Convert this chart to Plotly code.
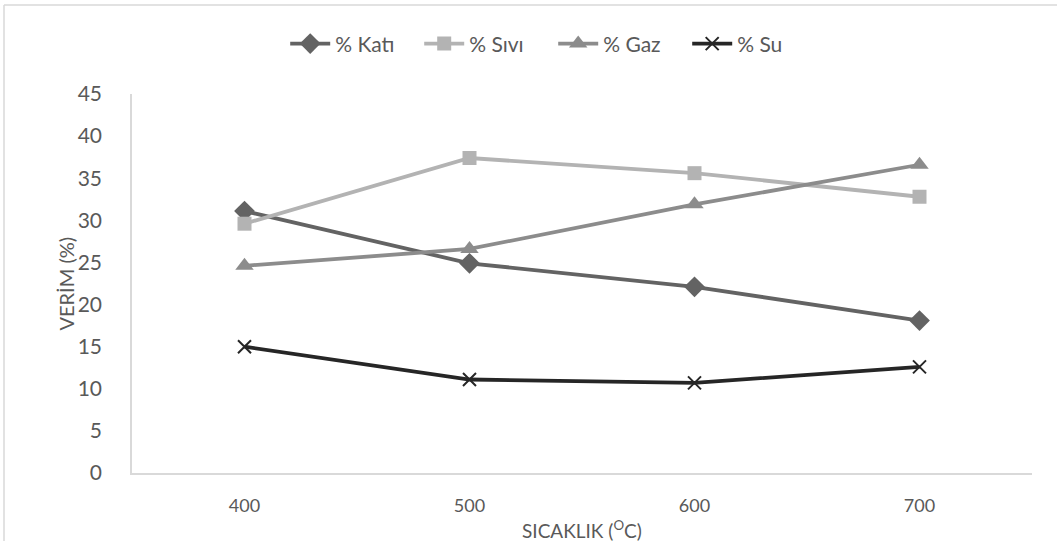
import plotly.graph_objects as go

# Temperature categories (°C)
temperatures = ["400", "500", "600", "700"]

# Product yields (%)
kati = [31.1, 24.9, 22.1, 18.1]
sivi = [29.6, 37.4, 35.6, 32.8]
gaz = [24.6, 26.6, 31.9, 36.6]
su = [15.0, 11.1, 10.7, 12.6]

y_ticks = [0, 5, 10, 15, 20, 25, 30, 35, 40, 45]

FONT = "Lato, 'Open Sans', sans-serif"
TEXT = "#595959"

series = [
    ("% Katı", kati, "#636363", dict(symbol="diamond", size=16)),
    ("% Sıvı", sivi, "#b3b3b3", dict(symbol="square", size=14)),
    ("% Gaz", gaz, "#8c8c8c", dict(symbol="triangle-up", size=16)),
    ("% Su", su, "#262626", dict(symbol="x-thin-open", size=13,
                                 line=dict(width=2, color="#262626"))),
]

fig = go.Figure()
for name, vals, color, marker in series:
    m = dict(color=color, **marker)
    if "line" not in m:
        m["line"] = dict(width=0)
    fig.add_trace(go.Scatter(
        x=temperatures, y=vals, name=name, mode="lines+markers",
        line=dict(color=color, width=3.8), marker=m,
    ))

fig.update_layout(
    width=1057, height=541,
    margin=dict(l=132, r=25, t=94, b=68),
    paper_bgcolor="white", plot_bgcolor="white",
    font=dict(family=FONT, color=TEXT),
    showlegend=True,
    legend=dict(
        orientation="h", x=0.468, xanchor="center", y=1.132, yanchor="middle",
        font=dict(size=21, color=TEXT), bgcolor="rgba(0,0,0,0)",
        itemwidth=40, tracegroupgap=0, entrywidth=79,
    ),
    xaxis=dict(
        type="category", range=[-0.5, 3.5],
        showgrid=False, zeroline=False,
        showline=True, linecolor="#d9d9d9", linewidth=1.5,
        ticks="", tickfont=dict(size=18, color=TEXT),
        ticklabelstandoff=16,
    ),
    yaxis=dict(
        range=[0, 45], tickvals=y_ticks,
        showgrid=False, zeroline=False,
        showline=True, linecolor="#d9d9d9", linewidth=1.5,
        ticks="", tickfont=dict(size=21, color=TEXT),
        ticklabelstandoff=24,
    ),
    annotations=[
        dict(text="VERİM (%)", xref="paper", yref="paper",
             x=(65 - 132) / 900, y=0.5, textangle=-90,
             showarrow=False, font=dict(size=20, color=TEXT),
             xanchor="center", yanchor="middle"),
        dict(text="SICAKLIK (<sup>O</sup>C)", xref="paper", yref="paper",
             x=0.5, y=(473 - 529) / 379, showarrow=False,
             font=dict(size=19, color=TEXT),
             xanchor="center", yanchor="middle"),
    ],
    shapes=[
        # chart-area frame (top and left edges)
        dict(type="line", xref="paper", yref="paper",
             x0=(4 - 132) / 900, x1=(1070 - 132) / 900,
             y0=1 + (94 - 5) / 379, y1=1 + (94 - 5) / 379,
             line=dict(color="#d9d9d9", width=1.5)),
        dict(type="line", xref="paper", yref="paper",
             x0=(4 - 132) / 900, x1=(4 - 132) / 900,
             y0=1 + (94 - 5) / 379, y1=(473 - 560) / 379,
             line=dict(color="#d9d9d9", width=1.5)),
    ],
)

fig.write_html("out.html")
